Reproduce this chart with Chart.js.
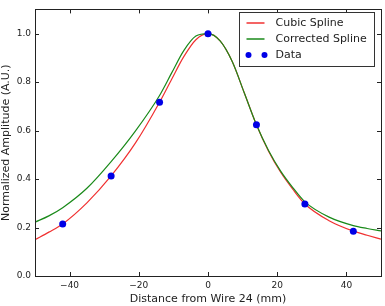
<!DOCTYPE html>
<html><head><meta charset="utf-8">
<script src="https://cdn.jsdelivr.net/npm/chart.js@4/dist/chart.umd.min.js"></script>
<style>html,body{margin:0;padding:0;background:#fff;}#wrap{width:385px;height:306px;}</style>
</head><body><div id="wrap"><canvas id="c" width="385" height="306"></canvas></div>
<script>
const curveX = [-50,-46,-42,-35,-28,-21,-14,-10.5,-7,-3.5,0,3.5,7,10.5,14,17.5,21,24.5,28,35,42,46,50];
const cubicY = [0.150,0.181,0.215,0.302,0.413,0.548,0.717,0.812,0.905,0.975,1.0,0.970,0.885,0.755,0.624,0.515,0.428,0.358,0.297,0.228,0.185,0.168,0.152];
const correctedY = [0.222,0.248,0.282,0.362,0.472,0.598,0.745,0.838,0.930,0.990,1.0,0.970,0.885,0.755,0.624,0.518,0.433,0.365,0.306,0.243,0.208,0.196,0.186];
const dataX = [-42,-28,-14,0,14,28,42];
const dataY = [0.215,0.413,0.717,1.0,0.624,0.297,0.185];
const xTicks = [-40,-20,0,20,40];
const yTicks = [0,0.2,0.4,0.6,0.8,1.0];
const seriesLabels = ['Cubic Spline','Corrected Spline','Data'];
const xTitle = 'Distance from Wire 24 (mm)';
const yTitle = 'Normalized Amplitude (A.U.)';

const FONT = 'DejaVu Sans';
const pts = (xs, ys) => xs.map((x, i) => ({x, y: ys[i]}));
const RED = '#f03030', GREEN = '#1a8a1a', BLUE = '#0000e6';

const frameTicks = {
  id: 'frameTicks',
  afterDatasetsDraw(chart) {
    const {ctx, chartArea: a, scales} = chart;
    ctx.save();
    ctx.strokeStyle = '#222';
    ctx.lineWidth = 1;
    ctx.beginPath();
    const L = 4;
    xTicks.forEach(v => {
      const px = Math.round(scales.x.getPixelForValue(v)) + 0.5;
      ctx.moveTo(px, a.bottom); ctx.lineTo(px, a.bottom - L);
      ctx.moveTo(px, a.top); ctx.lineTo(px, a.top + L);
    });
    yTicks.forEach(v => {
      const py = Math.round(scales.y.getPixelForValue(v)) + 0.5;
      ctx.moveTo(a.left, py); ctx.lineTo(a.left + L, py);
      ctx.moveTo(a.right, py); ctx.lineTo(a.right - L, py);
    });
    ctx.stroke();
    ctx.strokeRect(Math.round(a.left) + 0.5, Math.round(a.top) + 0.5, Math.round(a.right - a.left), Math.round(a.bottom - a.top));
    ctx.restore();
  },
  afterDraw(chart) {
    const {ctx, chartArea: a} = chart;
    ctx.save();
    const bx = a.right - 141.5, by = 12.5, bw = 135, bh = 54;
    ctx.fillStyle = '#fff';
    ctx.fillRect(bx, by, bw, bh);
    ctx.strokeStyle = '#333';
    ctx.lineWidth = 1;
    ctx.strokeRect(bx, by, bw, bh);
    ctx.font = '11px "' + FONT + '"';
    ctx.textBaseline = 'middle';
    ctx.textAlign = 'left';
    const rows = [23, 39, 55];
    const cols = [RED, GREEN, BLUE];
    seriesLabels.forEach((lab, i) => {
      const y = rows[i];
      if (i < 2) {
        ctx.strokeStyle = cols[i]; ctx.lineWidth = 1.5;
        ctx.beginPath(); ctx.moveTo(bx + 7, y); ctx.lineTo(bx + 25, y); ctx.stroke();
      } else {
        ctx.fillStyle = cols[i];
        [bx + 9, bx + 25].forEach(cx => { ctx.beginPath(); ctx.arc(cx, y, 3, 0, Math.PI * 2); ctx.fill(); });
      }
      ctx.fillStyle = '#222';
      ctx.fillText(lab, bx + 36, y);
    });
    ctx.restore();
  }
};

new Chart(document.getElementById('c'), {
  type: 'line',
  data: {
    datasets: [
      {label: seriesLabels[0], data: pts(curveX, cubicY), borderColor: RED, borderWidth: 1.2, pointRadius: 0, cubicInterpolationMode: 'monotone', fill: false, order: 2},
      {label: seriesLabels[1], data: pts(curveX, correctedY), borderColor: GREEN, borderWidth: 1.2, pointRadius: 0, cubicInterpolationMode: 'monotone', fill: false, order: 1},
      {label: seriesLabels[2], data: pts(dataX, dataY), showLine: false, pointRadius: 3.5, pointBackgroundColor: BLUE, backgroundColor: BLUE, borderColor: BLUE, pointBorderWidth: 0, order: 0}
    ]
  },
  options: {
    responsive: false,
    animation: false,
    devicePixelRatio: 1,
    layout: {padding: {top: 6, right: 2, left: 0, bottom: 0}},
    plugins: {legend: {display: false}, tooltip: {enabled: false}},
    scales: {
      x: {
        type: 'linear', min: -50, max: 50,
        afterBuildTicks: s => { s.ticks = xTicks.map(v => ({value: v})); },
        afterFit: s => { s.height = 30; },
        grid: {display: false, drawTicks: false},
        border: {display: false},
        ticks: {padding: 4, color: '#222', font: {family: FONT, size: 9}, maxRotation: 0,
          callback: v => v < 0 ? '\u2212' + Math.abs(v) : String(v)},
        title: {display: true, text: xTitle, color: '#222', font: {family: FONT, size: 11}, padding: {top: 0, bottom: 0}}
      },
      y: {
        type: 'linear', min: 0, max: 1.1,
        afterBuildTicks: s => { s.ticks = yTicks.map(v => ({value: v})); },
        afterFit: s => { s.width = 35; },
        grid: {display: false, drawTicks: false},
        border: {display: false},
        ticks: {padding: 4, color: '#222', font: {family: FONT, size: 9}, callback: v => Number(v).toFixed(1)},
        title: {display: true, text: yTitle, color: '#222', font: {family: FONT, size: 11}, padding: {top: 0, bottom: 0}}
      }
    }
  },
  plugins: [frameTicks]
});
</script></body></html>
